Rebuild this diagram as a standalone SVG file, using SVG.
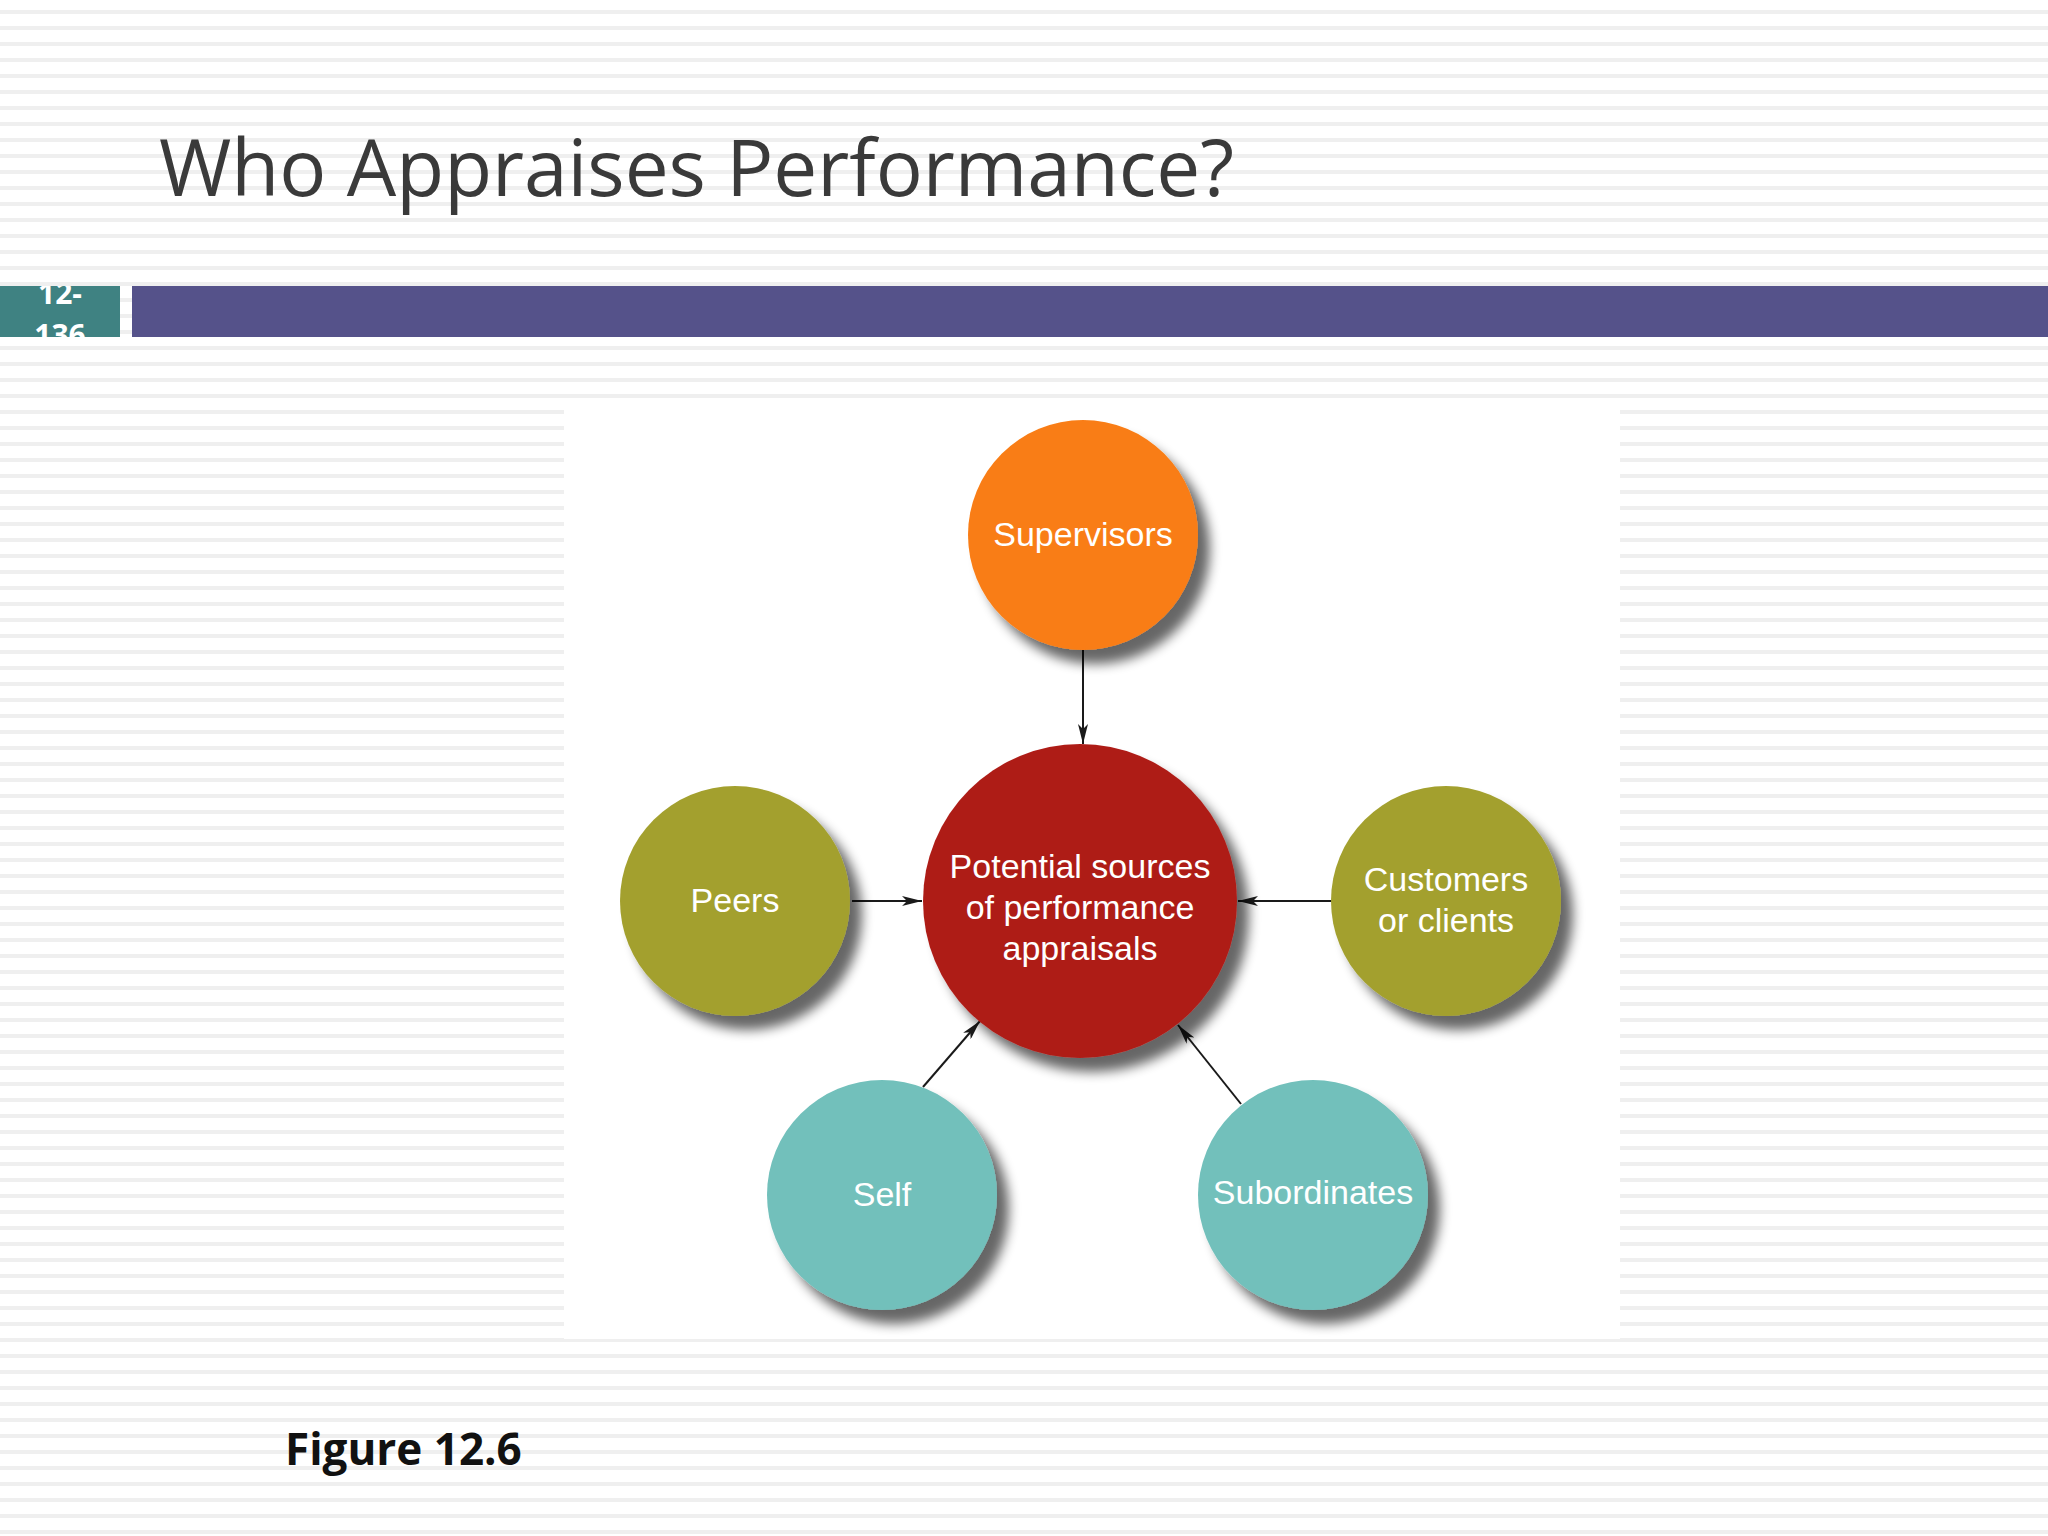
<svg xmlns="http://www.w3.org/2000/svg" width="2048" height="1536" viewBox="0 0 2048 1536">
<defs>
<pattern id="stripes" width="16" height="16" patternUnits="userSpaceOnUse"><rect width="16" height="16" fill="#ffffff"/><rect y="10" width="16" height="4" fill="#efefef"/></pattern>
<filter id="sh" x="-30%" y="-30%" width="170%" height="170%"><feGaussianBlur in="SourceAlpha" stdDeviation="6"/><feOffset dx="12" dy="14"/><feComponentTransfer><feFuncA type="linear" slope="0.6"/></feComponentTransfer><feMerge><feMergeNode/><feMergeNode in="SourceGraphic"/></feMerge></filter>
<marker id="ah" viewBox="0 0 20 10" refX="20" refY="5" markerWidth="20" markerHeight="10" markerUnits="userSpaceOnUse" orient="auto"><path d="M0,0 L20,5 L0,10 L5,5 Z" fill="#1a1a1a"/></marker>
</defs>
<style>
.lbl{font-family:"Liberation Sans",Arial,sans-serif;font-size:34px;fill:#ffffff;text-anchor:middle}
.c{stroke:#1a1a1a;stroke-width:2;fill:none;marker-end:url(#ah)}
</style>
<rect width="2048" height="1536" fill="url(#stripes)"/>
<text x="159" y="196" font-family="'Open Sans','DejaVu Sans',sans-serif" font-size="78" fill="#3a3a3a" textLength="1075" lengthAdjust="spacingAndGlyphs">Who Appraises Performance?</text>
<rect x="0" y="286" width="120" height="51" fill="#3f8282"/>
<svg x="0" y="286" width="120" height="51"><text x="60" y="18" font-family="'Open Sans',sans-serif" font-weight="bold" font-size="30" fill="#ffffff" text-anchor="middle">12-</text><text x="60" y="60" font-family="'Open Sans',sans-serif" font-weight="bold" font-size="30" fill="#ffffff" text-anchor="middle">136</text></svg>
<rect x="132" y="286" width="1916" height="51" fill="#55528a"/>
<rect x="564" y="407" width="1056" height="932" fill="#ffffff"/>
<g id="connectors">
<line class="c" x1="1083" y1="650" x2="1083" y2="744"/>
<line class="c" x1="852" y1="901" x2="922" y2="901"/>
<line class="c" x1="1332" y1="901" x2="1238" y2="901"/>
<line class="c" x1="923" y1="1087" x2="980" y2="1021"/>
<line class="c" x1="1241" y1="1104" x2="1178" y2="1025"/>
</g>
<g id="supervisors"><circle cx="1083" cy="535" r="115" fill="#f97d14" filter="url(#sh)"/><text class="lbl" x="1083" y="546">Supervisors</text></g>
<g id="center"><circle cx="1080" cy="901" r="157" fill="#ae1c18" filter="url(#sh)"/><text class="lbl" x="1080" y="878">Potential sources</text><text class="lbl" x="1080" y="919">of performance</text><text class="lbl" x="1080" y="960">appraisals</text></g>
<g id="peers"><circle cx="735" cy="901" r="115" fill="#a3a02f" filter="url(#sh)"/><text class="lbl" x="735" y="912">Peers</text></g>
<g id="customers"><circle cx="1446" cy="901" r="115" fill="#a3a02f" filter="url(#sh)"/><text class="lbl" x="1446" y="891">Customers</text><text class="lbl" x="1446" y="932">or clients</text></g>
<g id="self"><circle cx="882" cy="1195" r="115" fill="#72c0bb" filter="url(#sh)"/><text class="lbl" x="882" y="1206">Self</text></g>
<g id="subordinates"><circle cx="1313" cy="1195" r="115" fill="#72c0bb" filter="url(#sh)"/><text class="lbl" x="1313" y="1204">Subordinates</text></g>
<text x="285" y="1465" font-family="'Open Sans','DejaVu Sans',sans-serif" font-weight="bold" font-size="44" fill="#111111">Figure 12.6</text>
</svg>
